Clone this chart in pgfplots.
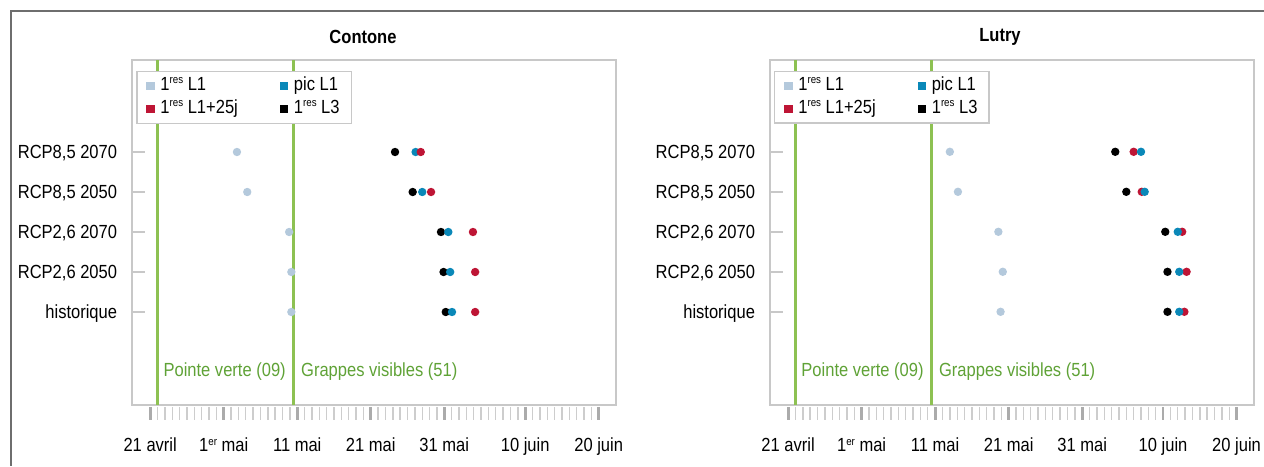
\documentclass[border=0pt]{standalone}
\usepackage{fontspec}
\setmainfont{Liberation Sans}[FakeStretch=0.87]
\usepackage{pgfplots}
\usepackage{pgfplotstable}
\pgfplotsset{compat=1.18}

\definecolor{colLone}{HTML}{B4C9DC}
\definecolor{colPic}{HTML}{0A88B8}
\definecolor{colRed}{HTML}{BE1535}
\definecolor{boxgray}{HTML}{C8C8C8}
\definecolor{tickdark}{HTML}{ABABAB}
\definecolor{ticklight}{HTML}{CDCDCD}
\definecolor{greenline}{HTML}{8DC152}
\definecolor{greentext}{HTML}{5FA236}
\definecolor{framegray}{HTML}{6E6E6E}

% small raised ordinal suffix (1er, 1res)
\newcommand{\sups}[1]{\raisebox{3.4pt}{\fontsize{5.6}{6}\selectfont #1}}

% y: 1 = historique ... 5 = RCP8,5 2070 ; dates as day of year
\pgfplotstableread{
y   l1     pic     l1p25  l3
5   122.8  147.1   147.8  144.3
4   124.2  148.0   149.2  146.7
3   129.9  151.55  154.9  150.55
2   130.2  151.8   155.2  150.9
1   130.2  152.05  155.2  151.2
}\contone

\pgfplotstableread{
y   l1     pic     l1p25  l3
5   133.0  159.0   158.0  155.5
4   134.1  159.5   159.1  157.0
3   139.6  164.0   164.6  162.3
2   140.2  164.2   165.2  162.6
1   139.9  164.2   164.9  162.6
}\lutry

\pgfplotsset{
  panel/.style={
    scale only axis, width=242pt, height=172.5pt, anchor=south west,
    xmin=108.55, xmax=174.38, ymin=-1.325, ymax=7.3,
    clip=false,
    axis line style={draw=boxgray, line width=0.8pt},
    xtick pos=bottom, ytick pos=left, tick align=inside,
    xtick={111,121,131,141,151,162,172},
    xticklabels={21 avril,1\sups{er} mai,11 mai,21 mai,31 mai,10 juin,20 juin},
    minor xtick={112,113,114,115,116,117,118,119,120,
                 122,123,124,125,126,127,128,129,130,
                 132,133,134,135,136,137,138,139,140,
                 142,143,144,145,146,147,148,149,150,
                 152,153,154,155,156,157,158,159,160,161,
                 163,164,165,166,167,168,169,170,171},
    ytick={1,2,3,4,5},
    yticklabels={historique,{RCP2,6 2050},{RCP2,6 2070},{RCP8,5 2050},{RCP8,5 2070}},
    major tick length=6.5pt, minor tick length=6.5pt,
    major x tick style={draw=tickdark, line width=1.4pt, yshift=-7.5pt},
    minor x tick style={draw=ticklight, line width=0.7pt, yshift=-7.5pt},
    major y tick style={draw=boxgray, line width=0.7pt},
    xticklabel style={anchor=base, inner sep=0pt, yshift=-23.5pt},
    yticklabel style={anchor=base east, inner sep=0pt, xshift=-7.35pt, yshift=-3.3pt},
    legend columns=2, legend cell align=left,
    legend image code/.code={\fill[##1, draw=none] (-2.1pt,-2.1pt) rectangle (2.1pt,2.1pt);},
    legend style={at={(0,1)}, anchor=north west, xshift=2pt, yshift=-5.5pt,
      draw=boxgray, line width=0.7pt, inner xsep=4.8pt, inner ysep=2pt,
      row sep=1.2pt,
      nodes={inner sep=1pt, text height=6.5pt, text depth=1.8pt},
      /tikz/every odd column/.append style={column sep=1.8pt},
      /tikz/every even column/.append style={column sep=20pt}},
    dots/.style={only marks, mark=*, mark size=2.1pt, color=##1,
      mark options={fill=##1, draw opacity=0}},
  }
}

\newcommand{\phases}{%
  \addplot[greenline, line width=1.2pt, forget plot] coordinates {(112,-1.325) (112,7.3)};
  \addplot[greenline, line width=1.2pt, forget plot] coordinates {(130.5,-1.325) (130.5,7.3)};
  \node[anchor=west, inner sep=0pt, text=greentext, xshift=2.8pt] at (axis cs:112,-0.5) {Pointe verte (09)};
  \node[anchor=west, inner sep=0pt, text=greentext, xshift=3.6pt] at (axis cs:130.5,-0.5) {Grappes visibles (51)};
  \draw[boxgray, line width=0.7pt] (axis cs:108.55,1) ++(6.5pt,0) -- ++(0,80pt);
  \addlegendimage{color=colLone, fill=colLone}\addlegendentry{1\sups{res} L1}
  \addlegendimage{color=colPic, fill=colPic}\addlegendentry{pic L1}
  \addlegendimage{color=colRed, fill=colRed}\addlegendentry{1\sups{res} L1+25j}
  \addlegendimage{color=black, fill=black}\addlegendentry{1\sups{res} L3}
}

\begin{document}
\begin{tikzpicture}[font=\fontsize{9.5}{11}\selectfont]
\useasboundingbox (0,0) rectangle (632pt,233pt);
\draw[framegray, line width=0.8pt] (632pt,227.5pt) -- (5.5pt,227.5pt) -- (5.5pt,0pt);

\node[font=\fontsize{9.5}{11}\selectfont\bfseries] at (181.5pt,214.5pt) {Contone};
\node[font=\fontsize{9.5}{11}\selectfont\bfseries] at (500pt,214.5pt) {Lutry};

\begin{axis}[panel, at={(66.1pt,30.5pt)}]
  \phases
  \addplot[dots=colLone, forget plot] table[x=l1, y=y] {\contone};
  \addplot[dots=black, forget plot] table[x=l3, y=y] {\contone};
  \addplot[dots=colPic, forget plot] table[x=pic, y=y] {\contone};
  \addplot[dots=colRed, forget plot] table[x=l1p25, y=y] {\contone};
\end{axis}

\begin{axis}[panel, at={(385.05pt,30.6pt)}]
  \phases
  \addplot[dots=colLone, forget plot] table[x=l1, y=y] {\lutry};
  \addplot[dots=black, forget plot] table[x=l3, y=y] {\lutry};
  \addplot[dots=colRed, forget plot] table[x=l1p25, y=y] {\lutry};
  \addplot[dots=colPic, forget plot] table[x=pic, y=y] {\lutry};
\end{axis}
\end{tikzpicture}
\end{document}
